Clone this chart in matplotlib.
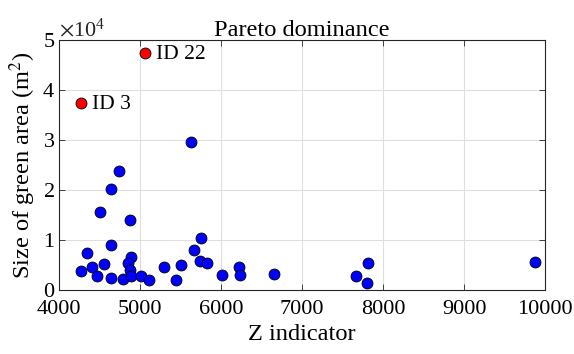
import numpy as np
import matplotlib

matplotlib.use("Agg")
import matplotlib.pyplot as plt
from matplotlib.ticker import ScalarFormatter

plt.rcParams["font.family"] = ["Liberation Serif", "DejaVu Serif"]
plt.rcParams["mathtext.fontset"] = "stix"

# dominated solutions (Z indicator, green area m^2)
z_blue = [4272, 4350, 4412, 4465, 4502, 4556, 4646, 4646, 4646, 4741, 4786,
          4872, 4889, 4856, 4877, 4889, 5016, 5115, 5296, 5444, 5502, 5626,
          5667, 5753, 5737, 5823, 6008, 6218, 6235, 6654, 7663, 7811, 7798, 9880]
area_blue = [3800, 7330, 4670, 2800, 15600, 5200, 20200, 9000, 2400, 23870, 2130,
             14000, 6670, 5330, 4000, 2870, 2800, 2000, 4530, 2000, 5000, 29600,
             8000, 10400, 5730, 5330, 2930, 4670, 3070, 3270, 2800, 5330, 1470, 5530]

# Pareto front
z_red = [5058, 4268]
area_red = [47330, 37330]
red_labels = ["ID 22", "ID 3"]

TICK_FS = 16
LABEL_FS = 17.6

fig = plt.figure(figsize=(5.74, 3.54), dpi=100)
ax = fig.add_axes([0.1028, 0.1808, 0.8467, 0.7062])

ax.scatter(z_blue, area_blue, s=62, c="#0000ff", edgecolors="k", linewidths=0.6, zorder=3)
ax.scatter(z_red, area_red, s=62, c="#ff0000", edgecolors="k", linewidths=0.6, zorder=3)
for x, y, lab in zip(z_red, area_red, red_labels):
    ax.annotate(lab, (x, y), xytext=(8, -1), textcoords="offset points",
                va="center", ha="left", fontsize=15.5)

ax.set_xlim(4000, 10000)
ax.set_ylim(0, 50000)
ax.set_xticks(np.arange(4000, 10001, 1000))
ax.set_yticks(np.arange(0, 50001, 10000))
fmt = ScalarFormatter(useMathText=True)
fmt.set_powerlimits((0, 0))
ax.yaxis.set_major_formatter(fmt)
ax.yaxis.get_offset_text().set_fontsize(TICK_FS)

ax.grid(True, color="#dfdfdf", lw=0.8)
ax.set_axisbelow(True)
for sp in ax.spines.values():
    sp.set_color("#262626")
    sp.set_linewidth(0.8)
ax.tick_params(direction="in", top=True, right=True, labelsize=TICK_FS,
               colors="#262626", length=4, width=0.6, pad=3)
ax.tick_params(axis="x", pad=7)
for lbl in ax.get_xticklabels() + ax.get_yticklabels():
    lbl.set_color("k")

ax.set_title("Pareto dominance", fontsize=LABEL_FS, pad=3)
ax.set_xlabel("Z indicator", fontsize=LABEL_FS, labelpad=4)
ax.set_ylabel("Size of green area (m$^2$)", fontsize=LABEL_FS, labelpad=3)

fig.savefig("out.png", dpi=100)
